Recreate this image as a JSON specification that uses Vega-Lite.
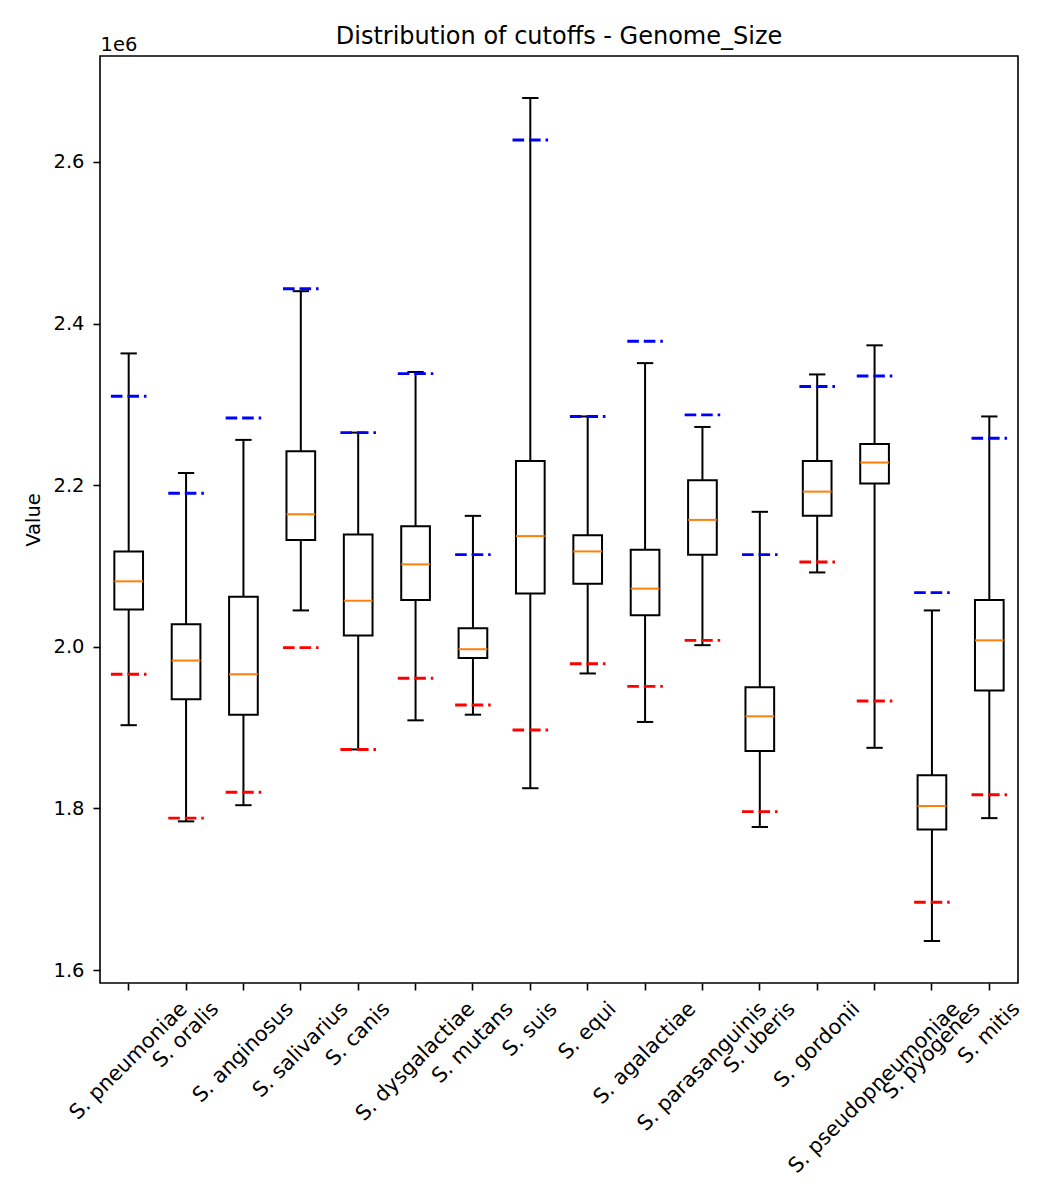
{
  "$schema": "https://vega.github.io/schema/vega-lite/v6.json",
  "width": 918,
  "height": 927,
  "autosize": {"type": "none"},
  "padding": {"left": 100, "top": 56, "right": 32, "bottom": 217},
  "background": "white",
  "title": {
    "text": "Distribution of cutoffs - Genome_Size",
    "font": "DejaVu Sans",
    "fontSize": 24,
    "fontWeight": "normal",
    "color": "#000",
    "anchor": "middle",
    "frame": "group",
    "baseline": "alphabetic",
    "offset": -34
  },
  "data": {
    "values": [
      {"species": "S. pneumoniae", "wlo": 1903000, "q1": 2046000, "med": 2081000, "q3": 2118000, "whi": 2363000, "lower": 1966000, "upper": 2310000},
      {"species": "S. oralis", "wlo": 1784000, "q1": 1935000, "med": 1983000, "q3": 2028000, "whi": 2215000, "lower": 1788000, "upper": 2190000},
      {"species": "S. anginosus", "wlo": 1804000, "q1": 1916000, "med": 1966000, "q3": 2062000, "whi": 2256000, "lower": 1820000, "upper": 2283000},
      {"species": "S. salivarius", "wlo": 2045000, "q1": 2132000, "med": 2164000, "q3": 2242000, "whi": 2440000, "lower": 1999000, "upper": 2443000},
      {"species": "S. canis", "wlo": 1873000, "q1": 2014000, "med": 2057000, "q3": 2139000, "whi": 2265000, "lower": 1873000, "upper": 2265000},
      {"species": "S. dysgalactiae", "wlo": 1909000, "q1": 2058000, "med": 2102000, "q3": 2149000, "whi": 2340000, "lower": 1961000, "upper": 2338000},
      {"species": "S. mutans", "wlo": 1916000, "q1": 1986000, "med": 1997000, "q3": 2023000, "whi": 2162000, "lower": 1928000, "upper": 2114000},
      {"species": "S. suis", "wlo": 1825000, "q1": 2066000, "med": 2137000, "q3": 2230000, "whi": 2679000, "lower": 1897000, "upper": 2627000},
      {"species": "S. equi", "wlo": 1967000, "q1": 2078000, "med": 2118000, "q3": 2138000, "whi": 2285000, "lower": 1979000, "upper": 2285000},
      {"species": "S. agalactiae", "wlo": 1907000, "q1": 2039000, "med": 2072000, "q3": 2120000, "whi": 2351000, "lower": 1951000, "upper": 2378000},
      {"species": "S. parasanguinis", "wlo": 2002000, "q1": 2114000, "med": 2157000, "q3": 2206000, "whi": 2272000, "lower": 2008000, "upper": 2287000},
      {"species": "S. uberis", "wlo": 1777000, "q1": 1871000, "med": 1914000, "q3": 1950000, "whi": 2167000, "lower": 1796000, "upper": 2114000},
      {"species": "S. gordonii", "wlo": 2092000, "q1": 2162000, "med": 2192000, "q3": 2230000, "whi": 2337000, "lower": 2105000, "upper": 2322000},
      {"species": "S. pseudopneumoniae", "wlo": 1875000, "q1": 2202000, "med": 2228000, "q3": 2251000, "whi": 2373000, "lower": 1933000, "upper": 2335000},
      {"species": "S. pyogenes", "wlo": 1636000, "q1": 1774000, "med": 1803000, "q3": 1841000, "whi": 2045000, "lower": 1684000, "upper": 2067000},
      {"species": "S. mitis", "wlo": 1788000, "q1": 1946000, "med": 2008000, "q3": 2058000, "whi": 2285000, "lower": 1817000, "upper": 2258000}
    ]
  },
  "layer": [
    {
      "layer": [
        {
          "description": "whiskers, min to max",
          "mark": {"type": "rule", "stroke": "#000", "strokeWidth": 2},
          "encoding": {
            "x": {
              "field": "species", "type": "nominal", "sort": null, "title": null,
              "scale": {"paddingInner": 0, "paddingOuter": 0},
              "axis": {
                "title": null,
                "labelFontSize": 20.8,
                "labelAngle": -45,
                "labelAlign": "right",
                "labelBaseline": "middle",
                "labelPadding": 15.4,
                "labelLimit": 0,
                "labelOverlap": false,
                "labelBound": false,
                "labelOffset": {"expr": "0.3536 * 20.8 * [7.515, 3.984, 6.353, 6.010, 3.867, 7.606, 5.039, 3.225, 3.433, 6.471, 8.301, 4.365, 5.366, 11.167, 6.130, 3.714][indexof(['S. pneumoniae', 'S. oralis', 'S. anginosus', 'S. salivarius', 'S. canis', 'S. dysgalactiae', 'S. mutans', 'S. suis', 'S. equi', 'S. agalactiae', 'S. parasanguinis', 'S. uberis', 'S. gordonii', 'S. pseudopneumoniae', 'S. pyogenes', 'S. mitis'], datum.label)]"}
              }
            },
            "y": {
              "field": "wlo", "type": "quantitative", "title": "Value",
              "scale": {"domain": [1584000, 2731000], "nice": false, "zero": false},
              "axis": {
                "title": "Value",
                "values": [1600000, 1800000, 2000000, 2200000, 2400000, 2600000],
                "labelExpr": "format(datum.value / 1000000, '.1f')",
                "labelPadding": 9,
                "titlePadding": 9
              }
            },
            "y2": {"field": "whi"}
          }
        },
        {
          "description": "lower caps",
          "mark": {"type": "rule", "stroke": "#000", "strokeWidth": 2, "strokeCap": "square"},
          "encoding": {
            "x": {"field": "species", "type": "nominal", "sort": null, "title": null, "bandPosition": 0.375},
            "x2": {"field": "species", "bandPosition": 0.625},
            "y": {"field": "wlo", "type": "quantitative", "title": "Value", "scale": {"domain": [1584000, 2731000], "nice": false, "zero": false}}
          }
        },
        {
          "description": "upper caps",
          "mark": {"type": "rule", "stroke": "#000", "strokeWidth": 2, "strokeCap": "square"},
          "encoding": {
            "x": {"field": "species", "type": "nominal", "sort": null, "title": null, "bandPosition": 0.375},
            "x2": {"field": "species", "bandPosition": 0.625},
            "y": {"field": "whi", "type": "quantitative", "title": "Value", "scale": {"domain": [1584000, 2731000], "nice": false, "zero": false}}
          }
        },
        {
          "description": "interquartile boxes",
          "mark": {"type": "bar", "fill": "#fff", "stroke": "#000", "strokeWidth": 2, "width": {"band": 0.5}},
          "encoding": {
            "x": {"field": "species", "type": "nominal", "sort": null, "title": null},
            "y": {"field": "q1", "type": "quantitative", "title": "Value", "scale": {"domain": [1584000, 2731000], "nice": false, "zero": false}},
            "y2": {"field": "q3"}
          }
        },
        {
          "description": "medians",
          "mark": {"type": "rule", "stroke": "#ff7f0e", "strokeWidth": 2},
          "encoding": {
            "x": {"field": "species", "type": "nominal", "sort": null, "title": null, "bandPosition": 0.25},
            "x2": {"field": "species", "bandPosition": 0.75},
            "y": {"field": "med", "type": "quantitative", "title": "Value", "scale": {"domain": [1584000, 2731000], "nice": false, "zero": false}}
          }
        },
        {
          "description": "upper cutoffs",
          "mark": {"type": "rule", "stroke": "#0000ff", "strokeWidth": 2.9, "strokeDash": [11.6, 4.9]},
          "encoding": {
            "x": {"field": "species", "type": "nominal", "sort": null, "title": null, "bandPosition": 0.19},
            "x2": {"field": "species", "bandPosition": 0.81},
            "y": {"field": "upper", "type": "quantitative", "title": "Value", "scale": {"domain": [1584000, 2731000], "nice": false, "zero": false}}
          }
        }
      ]
    },
    {
      "description": "lower cutoffs; also carries the 1e6 offset label on a bare top axis",
      "mark": {"type": "rule", "stroke": "#ff0000", "strokeWidth": 2.9, "strokeDash": [11.6, 4.9]},
      "encoding": {
        "x": {
          "field": "species", "type": "nominal", "sort": null, "bandPosition": 0.19,
          "axis": {
            "orient": "top",
            "title": "1e6",
            "labels": false,
            "ticks": false,
            "domain": false,
            "titleAnchor": "start",
            "titleAlign": "left",
            "titleBaseline": "alphabetic",
            "titlePadding": 6
          }
        },
        "x2": {"field": "species", "bandPosition": 0.81},
        "y": {"field": "lower", "type": "quantitative", "title": "Value", "scale": {"domain": [1584000, 2731000], "nice": false, "zero": false}}
      }
    }
  ],
  "resolve": {"axis": {"x": "independent"}},
  "config": {
    "font": "DejaVu Sans",
    "view": {"stroke": "#000", "strokeWidth": 1.6},
    "axis": {
      "labelFont": "DejaVu Sans",
      "labelFontSize": 19.5,
      "labelColor": "#000",
      "titleFont": "DejaVu Sans",
      "titleFontSize": 19.5,
      "titleFontWeight": "normal",
      "titleColor": "#000",
      "tickColor": "#000",
      "tickWidth": 1.6,
      "tickSize": 7,
      "grid": false,
      "domain": false
    }
  }
}
